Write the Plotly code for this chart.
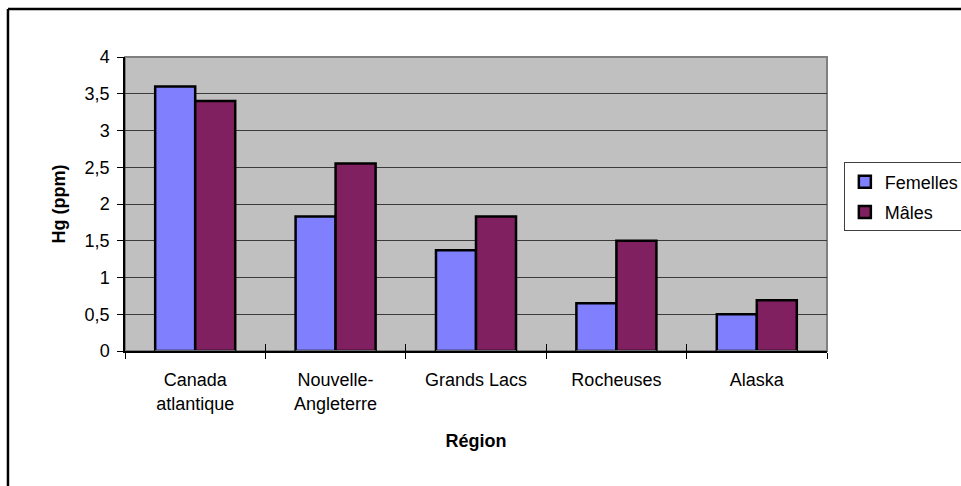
import plotly.graph_objects as go

# Mercury concentration (ppm) by region and sex
regions = ["Canada<br>atlantique", "Nouvelle-<br>Angleterre", "Grands Lacs", "Rocheuses", "Alaska"]
femelles = [3.6, 1.83, 1.37, 0.65, 0.5]
males = [3.4, 2.55, 1.83, 1.5, 0.69]
y_ticks = [0, 0.5, 1, 1.5, 2, 2.5, 3, 3.5, 4]

FONT = "Liberation Sans, Arial, sans-serif"

fig = go.Figure()
fig.add_trace(go.Bar(
    name="Femelles", x=regions, y=femelles, legendgroup="f",
    marker=dict(color="#8080FF", line=dict(color="#000000", width=2.5)),
))
fig.add_trace(go.Bar(
    name="Mâles", x=regions, y=males, legendgroup="m",
    marker=dict(color="#802060", line=dict(color="#000000", width=2.5)),
))

# plot-area frame (grey) and the outer chart border (top/left visible)
fig.add_shape(type="rect", xref="paper", yref="paper", x0=0, x1=1, y0=0, y1=1,
              line=dict(color="#808080", width=2), layer="below")
fig.add_shape(type="line", xref="paper", yref="paper",
              x0=-0.1667, x1=-0.1667, y0=1.163, y1=-0.5,
              line=dict(color="#000000", width=2.5))
fig.add_shape(type="line", xref="paper", yref="paper",
              x0=-0.1667, x1=1.25, y0=1.163, y1=1.163,
              line=dict(color="#000000", width=2.5))

fig.update_layout(
    width=961, height=486,
    margin=dict(l=125, r=134, t=57, b=135, autoexpand=False),
    paper_bgcolor="#FFFFFF",
    plot_bgcolor="#C0C0C0",
    separators=", ",
    font=dict(family=FONT, size=18, color="#000000"),
    barmode="group", bargap=0.43, bargroupgap=0,
    showlegend=True,
    legend=dict(
        x=1.024, xanchor="left", y=0.524, yanchor="middle",
        bgcolor="#FFFFFF", bordercolor="#404040", borderwidth=1,
        font=dict(family=FONT, size=18), itemwidth=30,
        traceorder="grouped", tracegroupgap=4,
    ),
    xaxis=dict(
        type="category", tickson="boundaries", ticks="outside", ticklen=6,
        tickcolor="#000000", tickwidth=1,
        showline=True, linecolor="#000000", linewidth=1.5,
        showgrid=False, ticklabelstandoff=12,
        title=dict(text="<b>Région</b>", font=dict(family=FONT, size=18), standoff=22),
    ),
    xaxis2=dict(
        type="category", overlaying="x", matches="x", tickson="boundaries",
        ticks="inside", ticklen=7, tickcolor="#000000", tickwidth=1,
        showticklabels=False, showgrid=False, showline=False, side="bottom",
    ),
    yaxis=dict(
        range=[0, 4], tickvals=y_ticks, ticks="outside", ticklen=6,
        tickcolor="#000000", tickwidth=1,
        showline=True, linecolor="#000000", linewidth=1.5,
        showgrid=True, gridcolor="#3A3A3A", gridwidth=1,
        zeroline=False, ticklabelstandoff=4,
        title=dict(text="<b>Hg (ppm)</b>", font=dict(family=FONT, size=18), standoff=14),
    ),
)

# invisible trace anchoring the overlaid tick axis
fig.add_trace(go.Bar(x=regions, y=[0] * len(regions), xaxis="x2",
                     showlegend=False, hoverinfo="skip",
                     marker=dict(color="rgba(0,0,0,0)")))

fig.write_html("out.html")
